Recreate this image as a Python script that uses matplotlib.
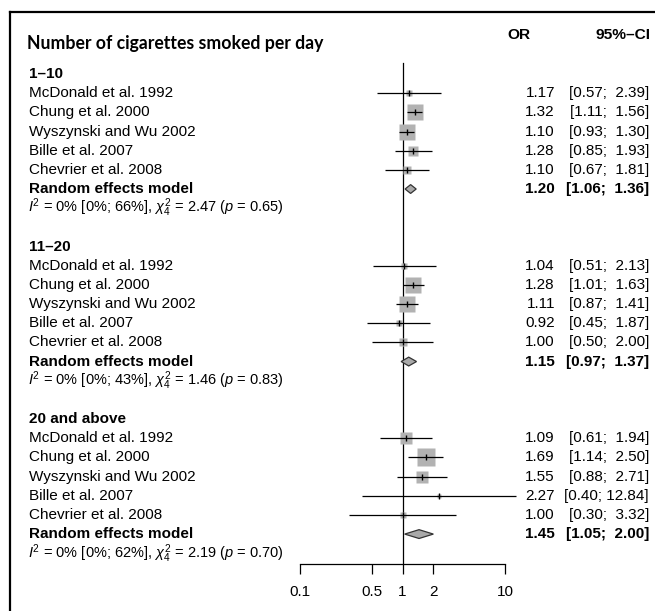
import numpy as np
import matplotlib
matplotlib.use("Agg")
import matplotlib.pyplot as plt
from matplotlib.transforms import blended_transform_factory
from matplotlib.lines import Line2D
from matplotlib.ticker import NullLocator, FixedLocator, FixedFormatter
from matplotlib import font_manager

# ---------------- data ----------------
groups = ["1–10", "11–20", "20 and above"]
studies = ["McDonald et al. 1992", "Chung et al. 2000", "Wyszynski and Wu 2002",
           "Bille et al. 2007", "Chevrier et al. 2008"]

or_g1 = [1.17, 1.32, 1.10, 1.28, 1.10]
lo_g1 = [0.57, 1.11, 0.93, 0.85, 0.67]
hi_g1 = [2.39, 1.56, 1.30, 1.93, 1.81]
w_g1 = [5, 37, 37, 13, 8]

or_g2 = [1.04, 1.28, 1.11, 0.92, 1.00]
lo_g2 = [0.51, 1.01, 0.87, 0.45, 0.50]
hi_g2 = [2.13, 1.63, 1.41, 1.87, 2.00]
w_g2 = [6, 41, 38, 6, 8]

or_g3 = [1.09, 1.69, 1.55, 2.27, 1.00]
lo_g3 = [0.61, 1.14, 0.88, 0.40, 0.30]
hi_g3 = [1.94, 2.50, 2.71, 12.84, 3.32]
w_g3 = [24, 43, 24, 2, 6]

pooled_or = [1.20, 1.15, 1.45]
pooled_lo = [1.06, 0.97, 1.05]
pooled_hi = [1.36, 1.37, 2.00]

i2 = [0, 0, 0]
i2_lo = [0, 0, 0]
i2_hi = [66, 43, 62]
q_stat = [2.47, 1.46, 2.19]
q_df = [4, 4, 4]
p_val = [0.65, 0.83, 0.70]

xticks = [0.1, 0.5, 1, 2, 10]
xtick_labels = ["0.1", "0.5", "1", "2", "10"]

title = "Number of cigarettes smoked per day"
col_or = "OR"
col_ci = "95%–CI"
pooled_label = "Random effects model"

# ---------------- layout ----------------
W, H, DPI = 655, 611, 100
ROW0_PX = 74.0     # pixel y of first row
ROW_H = 19.17      # pixel height of a row

plt.rcParams['font.family'] = ['Liberation Sans', 'DejaVu Sans']
plt.rcParams['mathtext.fontset'] = 'custom'
plt.rcParams['mathtext.rm'] = 'Liberation Sans'
plt.rcParams['mathtext.it'] = 'Liberation Sans:italic'
plt.rcParams['mathtext.bf'] = 'Liberation Sans:bold'

fig = plt.figure(figsize=(W / DPI, H / DPI), dpi=DPI)
ax_left, ax_right = 300 / W, 505 / W
ax = fig.add_axes([ax_left, 0, ax_right - ax_left, 1])
ax.set_xscale('log')
ax.set_xlim(0.1, 10)
ax.set_ylim((H - ROW0_PX) / ROW_H, (0 - ROW0_PX) / ROW_H)
ax.patch.set_alpha(0)

def px2row(py):
    return (py - ROW0_PX) / ROW_H

tr = blended_transform_factory(fig.transFigure, ax.transData)
FS = 11
BOX = '#b2b2b2'
px2pt = 72.0 / DPI

all_or = [or_g1, or_g2, or_g3]
all_lo = [lo_g1, lo_g2, lo_g3]
all_hi = [hi_g1, hi_g2, hi_g3]
all_w = [w_g1, w_g2, w_g3]

x_name = 29 / W
x_or = 555 / W
x_ci = 649 / W

row = 0
for g in range(3):
    ax.text(x_name, row, groups[g], transform=tr, ha='left', va='center',
            fontsize=FS, fontweight='bold')
    row += 1
    for s in range(len(studies)):
        est, lo, hi, w = all_or[g][s], all_lo[g][s], all_hi[g][s], all_w[g][s]
        side_px = 2.65 * np.sqrt(w)
        ax.plot([est], [row], marker='s', ms=side_px * px2pt, color=BOX,
                mec='none', clip_on=False, zorder=2)
        ax.plot([lo, hi], [row, row], color='black', lw=0.9, clip_on=False,
                zorder=3, solid_capstyle='butt')
        ax.plot([est], [row], marker='|', ms=3.8, mew=1.0, color='black',
                clip_on=False, zorder=4)
        ax.text(x_name, row, studies[s], transform=tr, ha='left', va='center',
                fontsize=FS)
        ax.text(x_or, row, f"{est:.2f}", transform=tr, ha='right',
                va='center', fontsize=FS)
        ax.text(x_ci, row, f"[{lo:.2f}; {hi:5.2f}]", transform=tr,
                ha='right', va='center', fontsize=FS)
        row += 1
    # pooled
    pe, pl, ph = pooled_or[g], pooled_lo[g], pooled_hi[g]
    hh = 0.23
    ax.fill([pl, pe, ph, pe], [row, row - hh, row, row + hh],
            facecolor='#a9a9a9', edgecolor='#333333', lw=0.9,
            clip_on=False, zorder=3)
    ax.text(x_name, row, pooled_label, transform=tr, ha='left', va='center',
            fontsize=FS, fontweight='bold')
    ax.text(x_or, row, f"{pe:.2f}", transform=tr, ha='right', va='center',
            fontsize=FS, fontweight='bold')
    ax.text(x_ci, row, f"[{pl:.2f}; {ph:5.2f}]", transform=tr, ha='right',
            va='center', fontsize=FS, fontweight='bold')
    row += 1
    het = (r"$I^2$ = " + f"{i2[g]}% [{i2_lo[g]}%; {i2_hi[g]}%], "
           + r"$\chi^2_{" + str(q_df[g]) + r"}$" + f" = {q_stat[g]:.2f} ("
           + r"$p$" + f" = {p_val[g]:.2f})")
    ax.text(x_name - 1.5 / W, row, het, transform=tr, ha='left', va='center',
            fontsize=10.5)
    row += 2

# reference line at OR = 1
axis_row = px2row(564)
ax.plot([1, 1], [px2row(63), axis_row], color='black', lw=0.9,
        clip_on=False, zorder=1)

# x axis
for sp in ['top', 'right', 'left']:
    ax.spines[sp].set_visible(False)
ax.spines['bottom'].set_position(('data', axis_row))
ax.spines['bottom'].set_bounds(0.1, 10)
ax.spines['bottom'].set_linewidth(0.9)
ax.xaxis.set_major_locator(FixedLocator(xticks))
ax.xaxis.set_major_formatter(FixedFormatter(xtick_labels))
ax.xaxis.set_minor_locator(NullLocator())
ax.tick_params(axis='x', direction='out', length=7, width=0.9, pad=8,
               labelsize=FS)
ax.set_yticks([])

# header
names = {f.name for f in font_manager.fontManager.ttflist}
head_font = ['Lato', 'DejaVu Sans'] if 'Lato' in names else ['DejaVu Sans']
narrow = ['Liberation Sans Narrow', 'DejaVu Sans'] if 'Liberation Sans Narrow' in names \
    else ['Liberation Sans', 'DejaVu Sans']

t_head = fig.text(27 / W, 1 - 43 / H, title, ha='left', va='center',
                  fontsize=11, fontweight='bold', family=head_font)
t_or = fig.text(519 / W, 1 - 35 / H, col_or, ha='center', va='center',
                fontsize=11, fontweight='bold', family=narrow)
t_ci = fig.text(650 / W, 1 - 35 / H, col_ci, ha='right', va='center',
                fontsize=11, fontweight='bold', family=narrow)

fig.canvas.draw()
r = fig.canvas.get_renderer()
for t, target in [(t_head, 295.0), (t_ci, 55.0)]:
    wpx = t.get_window_extent(r).width
    t.set_fontsize(t.get_fontsize() * target / wpx)
t_or.set_fontsize(t_ci.get_fontsize())

# frame (top and left edges)
fig.add_artist(Line2D([10 / W, 1], [1 - 12 / H, 1 - 12 / H],
                      transform=fig.transFigure, color='black', lw=1.6))
fig.add_artist(Line2D([10 / W, 10 / W], [1 - 12 / H, 0],
                      transform=fig.transFigure, color='black', lw=1.6))

fig.savefig("out.png", dpi=DPI)
